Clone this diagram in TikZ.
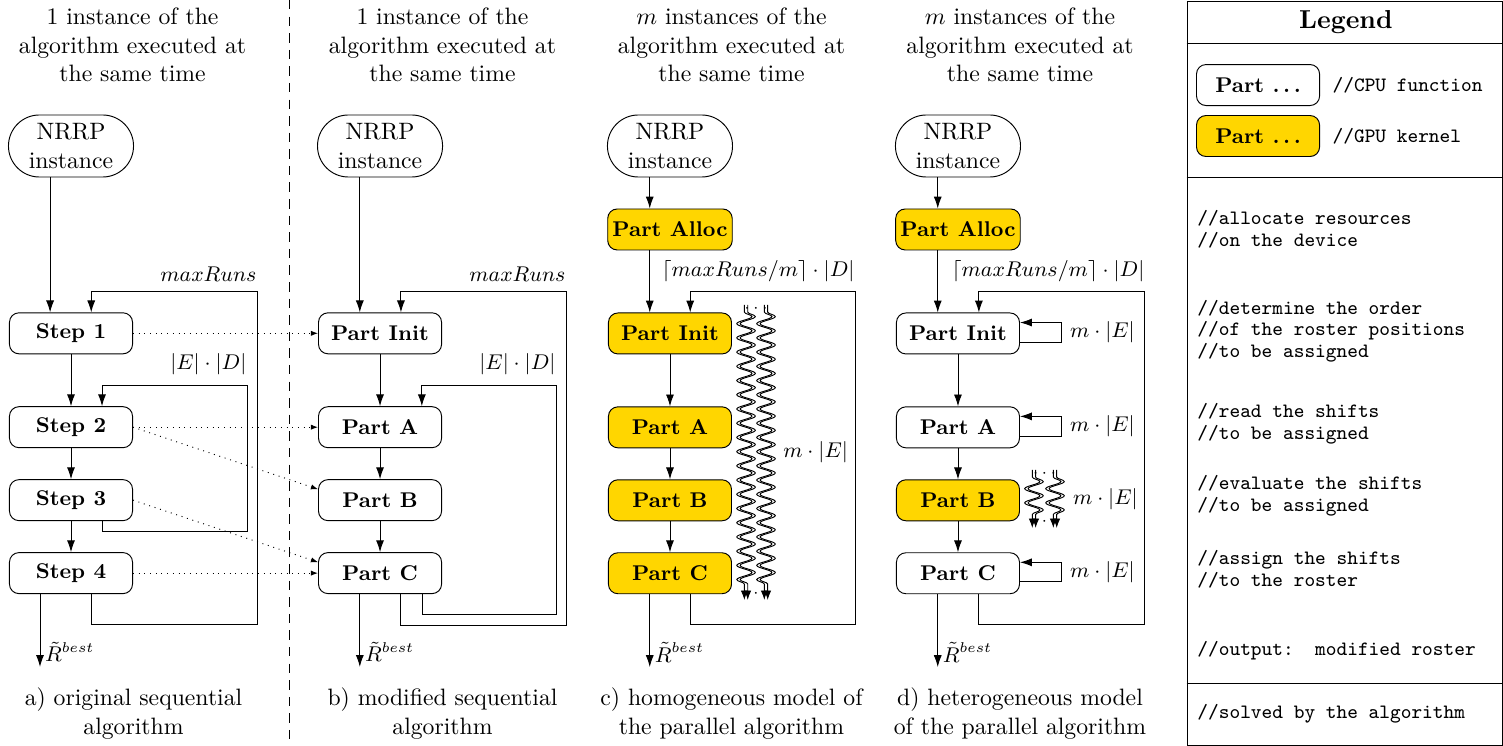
\documentclass[tikz,border=0pt]{standalone}
\usepackage{fontspec}
\usepackage{tikz}
\usepackage{xcolor}
\usetikzlibrary{shapes,arrows.meta,positioning,decorations.pathmorphing,calc}
\definecolor{gpugold}{RGB}{255,214,0}

\begin{document}
\begin{tikzpicture}[node distance=0.46cm]
    \tikzstyle{part} = [rectangle, rounded corners, draw, font=\small\bfseries, minimum width=1.825cm, minimum height=0.608cm, inner sep=2pt]
    \tikzstyle{kernel} = [part, fill=gpugold]
    \tikzstyle{input} = [rectangle, rounded corners=0.459cm, draw, align=center, minimum width=1.855cm, minimum height=0.92cm, inner sep=1pt]
    \tikzstyle{heading} = [align=center]
    \tikzstyle{arrow} = [-{Latex[length=5pt,width=3.4pt]}]
    \tikzstyle{map} = [dotted, -{Latex[length=3pt,width=2.2pt]}]
    \tikzstyle{runs} = [font=\small, anchor=south east, inner xsep=0pt, inner ysep=4pt]
    \tikzstyle{times} = [font=\small, right]
    \tikzstyle{best} = [font=\small, right, inner sep=2pt, yshift=0.22cm]
    \tikzstyle{wave} = [decorate, decoration={snake, amplitude=3.2pt, segment length=6pt, pre length=3pt, post length=4pt}, -{Latex[length=4pt,width=3pt]}]
    \tikzstyle{note} = [anchor=west, align=left, inner sep=0pt, font=\fontsize{8.6}{9.1}\selectfont\ttfamily]

    \useasboundingbox (0,0) rectangle (22.29,-11.063);

    % headings and captions
    \node[heading] (ha) at (1.965,-0.667) {1 instance of the\\algorithm executed at\\the same time};
    \node[heading] (hb) at (6.562,-0.667) {1 instance of the\\algorithm executed at\\the same time};
    \node[heading] (hc) at (10.848,-0.667) {$m$ instances of the\\algorithm executed at\\the same time};
    \node[heading] (hd) at (15.127,-0.667) {$m$ instances of the\\algorithm executed at\\the same time};

    \node[heading] (capa) at (1.98,-10.582) {a) original sequential\\algorithm};
    \node[heading] (capb) at (6.562,-10.582) {b) modified sequential\\algorithm};
    \node[heading] (capc) at (10.848,-10.582) {c) homogeneous model of\\the parallel algorithm};
    \node[heading] (capd) at (15.127,-10.582) {d) heterogeneous model\\of the parallel algorithm};

    \draw[dash pattern=on 4pt off 3pt] (4.286,0) -- (4.286,-11.063);

    % a) original sequential algorithm
    \node[input] (na) at (1.053,-2.165) {NRRP\\instance};
    \node[part, below=2.0cm of na] (s1) {Step 1};
    \node[part, below=0.77cm of s1] (s2) {Step 2};
    \node[part, below=of s2] (s3) {Step 3};
    \node[part, below=of s3] (s4) {Step 4};
    \coordinate (ra) at ($(s4.south)+(-0.46,-1.08)$);

    \draw[arrow] ([xshift=-0.31cm]na.south) -- ([xshift=-0.31cm]s1.north);
    \draw[arrow] (s1) -- (s2);
    \draw[arrow] (s2) -- (s3);
    \draw[arrow] (s3) -- (s4);
    \draw[arrow] ([xshift=0.46cm]s3.south) -- ++(0,-0.148) -| ($(s2.north)+(2.61,0.311)$) node[runs] {$|E|\cdot|D|$} -| ([xshift=0.46cm]s2.north);
    \draw[arrow] ([xshift=0.3cm]s4.south) -- ++(0,-0.445) -| ($(s1.north)+(2.758,0.311)$) node[runs] {$maxRuns$} -| ([xshift=0.3cm]s1.north);
    \draw[arrow] (s4.south -| ra) -- (ra) node[best] {$\tilde{R}^{best}$};

    % b) modified sequential algorithm
    \node[input] (nb) at (5.636,-2.165) {NRRP\\instance};
    \node[part, below=2.0cm of nb] (bi) {Part Init};
    \node[part, below=0.77cm of bi] (ba) {Part A};
    \node[part, below=of ba] (bb) {Part B};
    \node[part, below=of bb] (bc) {Part C};
    \coordinate (rb) at ($(bc.south)+(-0.3,-1.08)$);

    \draw[arrow] ([xshift=-0.3cm]nb.south) -- ([xshift=-0.3cm]bi.north);
    \draw[arrow] (bi) -- (ba);
    \draw[arrow] (ba) -- (bb);
    \draw[arrow] (bb) -- (bc);
    \draw[arrow] ([xshift=0.63cm]bc.south) -- ++(0,-0.297) -| ($(ba.north)+(2.61,0.311)$) node[runs] {$|E|\cdot|D|$} -| ([xshift=0.62cm]ba.north);
    \draw[arrow] ([xshift=0.31cm]bc.south) -- ++(0,-0.46) -| ($(bi.north)+(2.758,0.311)$) node[runs] {$maxRuns$} -| ([xshift=0.31cm]bi.north);
    \draw[arrow] (bc.south -| rb) -- (rb) node[best] {$\tilde{R}^{best}$};

    \draw[map] (s1.east) -- (bi.west);
    \draw[map] (s2.east) -- (ba.west);
    \draw[map] (s2.east) -- (bb.170);
    \draw[map] (s3.east) -- (bc.170);
    \draw[map] (s4.east) -- (bc.west);

    % c) homogeneous model
    \node[input] (nc) at (9.936,-2.165) {NRRP\\instance};
    \node[kernel, below=of nc] (calloc) {Part Alloc};
    \node[kernel, below=0.92cm of calloc] (ci) {Part Init};
    \node[kernel, below=0.77cm of ci] (ca) {Part A};
    \node[kernel, below=of ca] (cb) {Part B};
    \node[kernel, below=of cb] (cc) {Part C};
    \coordinate (rc) at ($(cc.south)+(-0.3,-1.08)$);

    \draw[arrow] ([xshift=-0.3cm]nc.south) -- ([xshift=-0.3cm]calloc.north);
    \draw[arrow] ([xshift=-0.3cm]calloc.south) -- ([xshift=-0.3cm]ci.north);
    \draw[arrow] (ci) -- (ca);
    \draw[arrow] (ca) -- (cb);
    \draw[arrow] (cb) -- (cc);
    \draw[arrow] ([xshift=0.3cm]cc.south) -- ++(0,-0.445) -| ($(ci.north)+(2.744,0.311)$) node[runs] {$\lceil maxRuns/m\rceil\cdot|D|$} -| ([xshift=0.3cm]ci.north);
    \draw[arrow] (cc.south -| rc) -- (rc) node[best] {$\tilde{R}^{best}$};

    \coordinate (wct) at (11.212,-4.523);
    \coordinate (wcb) at (11.212,-8.898);
    \foreach \dx in {-0.148,0.148}
        \foreach \dd in {-0.025,0.025}
            \draw[wave] ([xshift={(\dx+\dd)*1cm}]wct) -- ([xshift={(\dx+\dd)*1cm}]wcb);
    \node[font=\scriptsize, inner sep=0pt] (dct) at ([yshift=-0.05cm]wct) {$\cdots$};
    \node[font=\scriptsize, inner sep=0pt] (dcb) at ([yshift=0.1cm]wcb) {$\cdots$};
    \node[times] (mc) at ($(wct)!0.5!(wcb)+(0.28,0)$) {$m\cdot|E|$};

    % d) heterogeneous model
    \node[input] (nd) at (14.207,-2.165) {NRRP\\instance};
    \node[kernel, below=of nd] (dalloc) {Part Alloc};
    \node[part, below=0.92cm of dalloc] (di) {Part Init};
    \node[part, below=0.77cm of di] (da) {Part A};
    \node[kernel, below=of da] (db) {Part B};
    \node[part, below=of db] (dc) {Part C};
    \coordinate (rd) at ($(dc.south)+(-0.3,-1.08)$);

    \draw[arrow] ([xshift=-0.3cm]nd.south) -- ([xshift=-0.3cm]dalloc.north);
    \draw[arrow] ([xshift=-0.3cm]dalloc.south) -- ([xshift=-0.3cm]di.north);
    \draw[arrow] (di) -- (da);
    \draw[arrow] (da) -- (db);
    \draw[arrow] (db) -- (dc);
    \draw[arrow] ([xshift=0.31cm]dc.south) -- ++(0,-0.445) -| ($(di.north)+(2.773,0.311)$) node[runs] {$\lceil maxRuns/m\rceil\cdot|D|$} -| ([xshift=0.31cm]di.north);
    \draw[arrow] (dc.south -| rd) -- (rd) node[best] {$\tilde{R}^{best}$};

    \draw[arrow] (di.-8) -- ++(0.62,0) |- node[times, pos=0.25] {$m\cdot|E|$} (di.10);
    \draw[arrow] (da.-8) -- ++(0.62,0) |- node[times, pos=0.25] {$m\cdot|E|$} (da.10);
    \draw[arrow] (dc.-8) -- ++(0.62,0) |- node[times, pos=0.25] {$m\cdot|E|$} (dc.10);

    \coordinate (wdt) at (15.49,-6.97);
    \coordinate (wdb) at (15.49,-7.83);
    \foreach \dx in {-0.156,0.156}
        \foreach \dd in {-0.025,0.025}
            \draw[wave] ([xshift={(\dx+\dd)*1cm}]wdt) -- ([xshift={(\dx+\dd)*1cm}]wdb);
    \node[font=\scriptsize, inner sep=0pt] (ddt) at ([yshift=-0.05cm]wdt) {$\cdots$};
    \node[font=\scriptsize, inner sep=0pt] (ddb) at ([yshift=0.1cm]wdb) {$\cdots$};
    \node[times] (md) at ($(wdt)!0.5!(wdb)+(0.3,0)$) {$m\cdot|E|$};

    % legend
    \node[draw, minimum width=4.679cm, minimum height=11.035cm, anchor=north west, inner sep=0pt] (lgd) at (17.596,-0.015) {};
    \draw ([yshift=-0.623cm]lgd.north west) -- ([yshift=-0.623cm]lgd.north east);
    \draw ([yshift=-2.61cm]lgd.north west) -- ([yshift=-2.61cm]lgd.north east);
    \draw ([yshift=-10.114cm]lgd.north west) -- ([yshift=-10.114cm]lgd.north east);
    \node[font=\fontsize{10.95}{13}\selectfont\bfseries] (lhead) at (19.96,-0.326) {Legend};

    \node[part] (lcpu) at (18.657,-1.261) {Part .\,.\,.};
    \node[kernel] (lgpu) at (18.657,-2.017) {Part .\,.\,.};
    \node[note, right=0.18cm of lcpu] (tcpu) {//CPU function};
    \node[note, right=0.18cm of lgpu] (tgpu) {//GPU kernel};

    \node[note] (calloc-note) at (17.752,-3.396) {//allocate resources\\//on the device};
    \node[note] (init-note) at (17.752,-4.909) {//determine the order\\//of the roster positions\\//to be assigned};
    \node[note] (a-note) at (17.752,-6.288) {//read the shifts\\//to be assigned};
    \node[note] (b-note) at (17.752,-7.356) {//evaluate the shifts\\//to be assigned};
    \node[note] (c-note) at (17.752,-8.446) {//assign the shifts\\//to the roster};
    \node[note] (out-note) at (17.752,-9.655) {//output:\ \ modified roster};
    \node[note] (in-note) at (17.752,-10.589) {//solved by the algorithm};
\end{tikzpicture}
\end{document}
